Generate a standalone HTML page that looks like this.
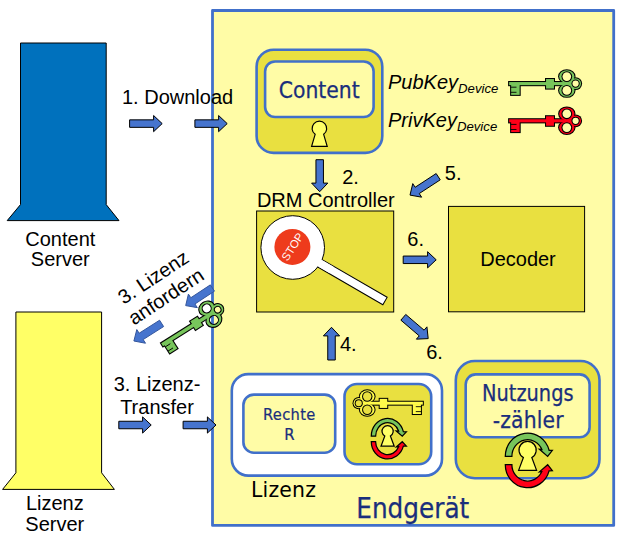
<!DOCTYPE html>
<html lang="de"><head><meta charset="utf-8"><title>DRM Architektur</title>
<style>html,body{margin:0;padding:0;background:#fff}body{width:625px;height:547px;overflow:hidden}svg{display:block}.ls{font-family:"Liberation Sans",sans-serif}.li{font-family:"Liberation Sans",sans-serif;font-style:italic}.dj{font-family:"DejaVu Sans",sans-serif}.dc{font-family:"DejaVu Sans Condensed","DejaVu Sans",sans-serif;stroke:#1A2E7C;stroke-width:0.25px}</style></head><body>
<svg width="625" height="547" viewBox="0 0 625 547">
<rect width="625" height="547" fill="#fff"/>
<rect x="212.5" y="10.5" width="401.2" height="514.9" fill="#FFFCA6" stroke="#4170CA" stroke-width="2.8" stroke-linejoin="round"/>
<path d="M20.5 43H106.2V204.6L119 220.6H7.2L20.5 204.6Z" fill="#0071BD" stroke="#000" stroke-width="1" stroke-linejoin="miter"/>
<text x="60.30" y="245.70" font-size="20.00" fill="#000" text-anchor="middle" class="ls" >Content</text>
<text x="60.30" y="266.20" font-size="20.00" fill="#000" text-anchor="middle" class="ls" >Server</text>
<path d="M15.9 312H101.6V472.8L114.4 489.4H2.6L15.9 472.8Z" fill="#FFFF66" stroke="#000" stroke-width="1" stroke-linejoin="miter"/>
<text x="54.80" y="510.10" font-size="20.00" fill="#000" text-anchor="middle" class="ls" >Lizenz</text>
<text x="54.80" y="530.70" font-size="20.00" fill="#000" text-anchor="middle" class="ls" >Server</text>
<text x="122.00" y="104.00" font-size="20.00" fill="#000" text-anchor="start" class="ls" >1. Download</text>
<polygon points="129.60,119.85 153.60,119.85 153.60,115.50 162.20,123.60 153.60,131.70 153.60,127.35 129.60,127.35" fill="#4674CE" stroke="#000" stroke-width="1" stroke-linejoin="miter"/>
<polygon points="194.90,119.85 218.60,119.85 218.60,115.50 227.20,123.60 218.60,131.70 218.60,127.35 194.90,127.35" fill="#4674CE" stroke="#000" stroke-width="1" stroke-linejoin="miter"/>
<text x="157.00" y="390.70" font-size="20.00" fill="#000" text-anchor="middle" class="ls" >3. Lizenz-</text>
<text x="157.00" y="413.80" font-size="20.00" fill="#000" text-anchor="middle" class="ls" >Transfer</text>
<polygon points="118.80,421.25 142.60,421.25 142.60,416.90 151.20,425.00 142.60,433.10 142.60,428.75 118.80,428.75" fill="#4674CE" stroke="#000" stroke-width="1" stroke-linejoin="miter"/>
<polygon points="183.10,421.25 207.40,421.25 207.40,416.90 216.00,425.00 207.40,433.10 207.40,428.75 183.10,428.75" fill="#4674CE" stroke="#000" stroke-width="1" stroke-linejoin="miter"/>
<g transform="translate(159.3,286.3) rotate(-33.5)">
<text x="0.00" y="-4.00" font-size="20.00" fill="#000" text-anchor="middle" class="ls" >3. Lizenz</text>
<text x="0.00" y="19.00" font-size="20.00" fill="#000" text-anchor="middle" class="ls" >anfordern</text>
</g>
<polygon points="214.46,291.13 194.94,304.00 197.34,307.63 185.70,305.60 188.42,294.10 190.82,297.74 210.34,284.87" fill="#4674CE" stroke="#34569C" stroke-width="1" stroke-linejoin="miter"/>
<polygon points="163.61,326.57 143.17,339.55 145.50,343.22 133.90,341.00 136.81,329.55 139.15,333.22 159.59,320.23" fill="#4674CE" stroke="#34569C" stroke-width="1" stroke-linejoin="miter"/>
<g transform="translate(161.6,345) rotate(-32.2) scale(0.985)"><mask id="kh1a" maskUnits="userSpaceOnUse" x="-5" y="-20" width="85" height="40"><rect x="-5" y="-20" width="85" height="40" fill="#fff"/><circle cx="58.50" cy="-7.00" r="4.00" fill="#000"/><circle cx="58.50" cy="6.80" r="4.00" fill="#000"/><circle cx="67.30" cy="0.00" r="2.80" fill="#000"/></mask><mask id="kh1b" maskUnits="userSpaceOnUse" x="-5" y="-20" width="85" height="40"><rect x="-5" y="-20" width="85" height="40" fill="#fff"/><circle cx="58.50" cy="-7.00" r="5.10" fill="#000"/><circle cx="58.50" cy="6.80" r="5.10" fill="#000"/><circle cx="67.30" cy="0.00" r="3.90" fill="#000"/></mask><g mask="url(#kh1a)"><rect x="-0.50" y="-2.90" width="65.00" height="5.80" fill="#000"/><rect x="1.50" y="-0.50" width="11.20" height="13.10" fill="#000"/><rect x="36.40" y="-5.90" width="10.60" height="12.20" fill="#000"/><ellipse cx="58.50" cy="-7.00" rx="9.00" ry="7.70" fill="#000"/><ellipse cx="58.50" cy="6.80" rx="9.00" ry="7.70" fill="#000"/><ellipse cx="67.30" cy="0.00" rx="6.80" ry="6.70" fill="#000"/></g><g mask="url(#kh1b)"><rect x="0.60" y="-1.80" width="62.80" height="3.60" fill="#77C55B"/><rect x="2.60" y="0.60" width="9.00" height="10.90" fill="#77C55B"/><rect x="37.50" y="-4.80" width="8.40" height="10.00" fill="#77C55B"/><ellipse cx="58.50" cy="-7.00" rx="7.90" ry="6.60" fill="#77C55B"/><ellipse cx="58.50" cy="6.80" rx="7.90" ry="6.60" fill="#77C55B"/><ellipse cx="67.30" cy="0.00" rx="5.70" ry="5.60" fill="#77C55B"/><path d="M2.2 3.6H8.2M2.2 8.7H8.2" stroke="#000" stroke-width="0.9" fill="none"/></g></g>
<rect x="256.60" y="49.70" width="125.70" height="103.20" rx="17.00" fill="#E9E040" stroke="#4170CA" stroke-width="2.60"/>
<rect x="265.10" y="61.50" width="108.50" height="55.50" rx="10.00" fill="#FFFCA6" stroke="#4170CA" stroke-width="2.60"/>
<text x="319.20" y="97.80" font-size="22.60" fill="#1A2E7C" text-anchor="middle" class="dc" >Content</text>
<path d="M311.60 146.30 L315.15 134.34 A7.30 7.30 0 1 1 323.65 134.34 L327.20 146.30 Z" fill="#FFFF66" stroke="#000" stroke-width="1.2"/>
<text x="388" y="88.6" font-size="20" class="li">PubKey<tspan font-size="13.2" dy="4.4">Device</tspan></text>
<text x="388" y="127" font-size="20" class="li">PrivKey<tspan font-size="13.2" dy="4.4">Device</tspan></text>
<g transform="translate(508.3,83.6)"><mask id="kh2a" maskUnits="userSpaceOnUse" x="-5" y="-20" width="85" height="40"><rect x="-5" y="-20" width="85" height="40" fill="#fff"/><circle cx="58.50" cy="-7.00" r="4.30" fill="#000"/><circle cx="58.50" cy="6.80" r="4.30" fill="#000"/><circle cx="67.30" cy="0.00" r="3.10" fill="#000"/></mask><mask id="kh2b" maskUnits="userSpaceOnUse" x="-5" y="-20" width="85" height="40"><rect x="-5" y="-20" width="85" height="40" fill="#fff"/><circle cx="58.50" cy="-7.00" r="5.35" fill="#000"/><circle cx="58.50" cy="6.80" r="5.35" fill="#000"/><circle cx="67.30" cy="0.00" r="4.15" fill="#000"/></mask><g mask="url(#kh2a)"><rect x="-0.20" y="-2.60" width="64.40" height="5.20" fill="#000"/><rect x="1.80" y="-0.20" width="10.60" height="12.50" fill="#000"/><rect x="36.70" y="-5.60" width="10.00" height="11.60" fill="#000"/><ellipse cx="58.50" cy="-7.00" rx="8.70" ry="7.40" fill="#000"/><ellipse cx="58.50" cy="6.80" rx="8.70" ry="7.40" fill="#000"/><ellipse cx="67.30" cy="0.00" rx="6.50" ry="6.40" fill="#000"/></g><g mask="url(#kh2b)"><rect x="0.85" y="-1.55" width="62.30" height="3.10" fill="#77C55B"/><rect x="2.85" y="0.85" width="8.50" height="10.40" fill="#77C55B"/><rect x="37.75" y="-4.55" width="7.90" height="9.50" fill="#77C55B"/><ellipse cx="58.50" cy="-7.00" rx="7.65" ry="6.35" fill="#77C55B"/><ellipse cx="58.50" cy="6.80" rx="7.65" ry="6.35" fill="#77C55B"/><ellipse cx="67.30" cy="0.00" rx="5.45" ry="5.35" fill="#77C55B"/><path d="M2.2 3.6H8.2M2.2 8.7H8.2" stroke="#000" stroke-width="0.9" fill="none"/></g></g>
<g transform="translate(508.3,120.8)"><mask id="kh3a" maskUnits="userSpaceOnUse" x="-5" y="-20" width="85" height="40"><rect x="-5" y="-20" width="85" height="40" fill="#fff"/><circle cx="58.50" cy="-7.00" r="4.30" fill="#000"/><circle cx="58.50" cy="6.80" r="4.30" fill="#000"/><circle cx="67.30" cy="0.00" r="3.10" fill="#000"/></mask><mask id="kh3b" maskUnits="userSpaceOnUse" x="-5" y="-20" width="85" height="40"><rect x="-5" y="-20" width="85" height="40" fill="#fff"/><circle cx="58.50" cy="-7.00" r="5.35" fill="#000"/><circle cx="58.50" cy="6.80" r="5.35" fill="#000"/><circle cx="67.30" cy="0.00" r="4.15" fill="#000"/></mask><g mask="url(#kh3a)"><rect x="-0.20" y="-2.60" width="64.40" height="5.20" fill="#000"/><rect x="1.80" y="-0.20" width="10.60" height="12.50" fill="#000"/><rect x="36.70" y="-5.60" width="10.00" height="11.60" fill="#000"/><ellipse cx="58.50" cy="-7.00" rx="8.70" ry="7.40" fill="#000"/><ellipse cx="58.50" cy="6.80" rx="8.70" ry="7.40" fill="#000"/><ellipse cx="67.30" cy="0.00" rx="6.50" ry="6.40" fill="#000"/></g><g mask="url(#kh3b)"><rect x="0.85" y="-1.55" width="62.30" height="3.10" fill="#FF0018"/><rect x="2.85" y="0.85" width="8.50" height="10.40" fill="#FF0018"/><rect x="37.75" y="-4.55" width="7.90" height="9.50" fill="#FF0018"/><ellipse cx="58.50" cy="-7.00" rx="7.65" ry="6.35" fill="#FF0018"/><ellipse cx="58.50" cy="6.80" rx="7.65" ry="6.35" fill="#FF0018"/><ellipse cx="67.30" cy="0.00" rx="5.45" ry="5.35" fill="#FF0018"/><path d="M2.2 3.6H8.2M2.2 8.7H8.2" stroke="#000" stroke-width="0.9" fill="none"/></g></g>
<polygon points="323.45,159.70 323.45,183.10 327.80,183.10 319.70,191.70 311.60,183.10 315.95,183.10 315.95,159.70" fill="#4674CE" stroke="#000" stroke-width="1" stroke-linejoin="miter"/>
<text x="342.20" y="184.10" font-size="20.00" fill="#000" text-anchor="start" class="ls" >2.</text>
<text x="256.90" y="207.30" font-size="20.00" fill="#000" text-anchor="start" class="ls" >DRM Controller</text>
<rect x="256.6" y="211" width="137.1" height="101" fill="#E9E040" stroke="#000" stroke-width="1"/>
<g>
<g transform="translate(292.7,247.5) rotate(30.1)"><rect x="25" y="-4.3" width="81.7" height="8.6" fill="#fff" stroke="#000" stroke-width="1"/></g>
<circle cx="292.7" cy="247.5" r="31.8" fill="#fff" stroke="#000" stroke-width="1"/>
<g transform="translate(292.7,247.5) rotate(30.1)"><rect x="25" y="-3.8" width="20" height="7.6" fill="#fff"/></g>
<circle cx="292.4" cy="246.9" r="18" fill="#EE3B1C"/>
<g transform="translate(292.5,246.8) rotate(-57)"><text x="0" y="4" font-size="11.3" fill="#fff" text-anchor="middle" class="ls">STOP</text></g>
</g>
<rect x="448.5" y="206.4" width="136.1" height="105.4" fill="#E9E040" stroke="#000" stroke-width="1"/>
<text x="518.00" y="265.80" font-size="20.00" fill="#000" text-anchor="middle" class="ls" >Decoder</text>
<polygon points="440.25,179.84 419.25,193.54 421.63,197.18 410.00,195.10 412.78,183.62 415.15,187.26 436.15,173.56" fill="#4674CE" stroke="#000" stroke-width="1" stroke-linejoin="miter"/>
<text x="444.80" y="179.70" font-size="20.00" fill="#000" text-anchor="start" class="ls" >5.</text>
<polygon points="403.20,256.05 427.60,256.05 427.60,251.70 436.20,259.80 427.60,267.90 427.60,263.55 403.20,263.55" fill="#4674CE" stroke="#000" stroke-width="1" stroke-linejoin="miter"/>
<text x="407.30" y="245.90" font-size="20.00" fill="#000" text-anchor="start" class="ls" >6.</text>
<polygon points="405.74,314.45 424.10,330.16 426.93,326.85 428.20,338.60 416.40,339.16 419.23,335.86 400.86,320.15" fill="#4674CE" stroke="#000" stroke-width="1" stroke-linejoin="miter"/>
<text x="426.20" y="358.80" font-size="20.00" fill="#000" text-anchor="start" class="ls" >6.</text>
<polygon points="327.75,360.00 327.75,335.90 323.40,335.90 331.50,327.30 339.60,335.90 335.25,335.90 335.25,360.00" fill="#4674CE" stroke="#000" stroke-width="1" stroke-linejoin="miter"/>
<text x="339.90" y="350.80" font-size="20.00" fill="#000" text-anchor="start" class="ls" >4.</text>
<rect x="231.80" y="374.10" width="210.20" height="101.50" rx="16.50" fill="#fff" stroke="#4170CA" stroke-width="2.60"/>
<rect x="243.40" y="394.60" width="91.80" height="58.10" rx="10.50" fill="#FFFCA6" stroke="#4170CA" stroke-width="2.60"/>
<text x="289.30" y="420.20" font-size="16.30" fill="#1A2E7C" text-anchor="middle" class="dc" letter-spacing="0.35" style="stroke-width:0.2px">Rechte</text>
<text x="289.30" y="439.90" font-size="16.50" fill="#1A2E7C" text-anchor="middle" class="dc" style="stroke-width:0.2px">R</text>
<rect x="344.50" y="384.00" width="86.70" height="80.30" rx="12.50" fill="#E9E040" stroke="#4170CA" stroke-width="2.60"/>
<g transform="translate(423.7,403.2) scale(-0.965,0.965)"><mask id="kh4a" maskUnits="userSpaceOnUse" x="-5" y="-20" width="85" height="40"><rect x="-5" y="-20" width="85" height="40" fill="#fff"/><circle cx="58.50" cy="-7.00" r="4.35" fill="#000"/><circle cx="58.50" cy="6.80" r="4.35" fill="#000"/><circle cx="67.30" cy="0.00" r="3.15" fill="#000"/></mask><mask id="kh4b" maskUnits="userSpaceOnUse" x="-5" y="-20" width="85" height="40"><rect x="-5" y="-20" width="85" height="40" fill="#fff"/><circle cx="58.50" cy="-7.00" r="5.40" fill="#000"/><circle cx="58.50" cy="6.80" r="5.40" fill="#000"/><circle cx="67.30" cy="0.00" r="4.20" fill="#000"/></mask><g mask="url(#kh4a)"><rect x="-0.15" y="-2.55" width="64.30" height="5.10" fill="#000"/><rect x="1.85" y="-0.15" width="10.50" height="12.40" fill="#000"/><rect x="36.75" y="-5.55" width="9.90" height="11.50" fill="#000"/><ellipse cx="58.50" cy="-7.00" rx="8.65" ry="7.35" fill="#000"/><ellipse cx="58.50" cy="6.80" rx="8.65" ry="7.35" fill="#000"/><ellipse cx="67.30" cy="0.00" rx="6.45" ry="6.35" fill="#000"/></g><g mask="url(#kh4b)"><rect x="0.90" y="-1.50" width="62.20" height="3.00" fill="#FFFB4A"/><rect x="2.90" y="0.90" width="8.40" height="10.30" fill="#FFFB4A"/><rect x="37.80" y="-4.50" width="7.80" height="9.40" fill="#FFFB4A"/><ellipse cx="58.50" cy="-7.00" rx="7.60" ry="6.30" fill="#FFFB4A"/><ellipse cx="58.50" cy="6.80" rx="7.60" ry="6.30" fill="#FFFB4A"/><ellipse cx="67.30" cy="0.00" rx="5.40" ry="5.30" fill="#FFFB4A"/><path d="M2.2 3.6H8.2M2.2 8.7H8.2" stroke="#000" stroke-width="0.9" fill="none"/></g></g>
<path d="M371.30 436.20 A16.30 17.80 0 0 1 403.37 431.72 L406.35 431.80 L402.27 436.20 L396.24 430.98 L398.73 431.15 A12.00 13.50 0 0 0 375.60 436.20 Z" fill="#77C55B" stroke="#000" stroke-width="1.25" stroke-linejoin="miter"/><path d="M371.30 441.70 A16.30 17.20 0 0 0 403.34 446.18 L406.35 446.10 L402.27 441.70 L396.24 446.92 L398.64 446.75 A12.00 12.90 0 0 1 375.60 441.70 Z" fill="#FF0018" stroke="#000" stroke-width="1.25" stroke-linejoin="miter"/>
<path d="M381.00 446.20 L384.80 436.05 A5.60 5.60 0 1 1 390.40 436.05 L394.20 446.20 Z" fill="#FFFF66" stroke="#000" stroke-width="1.2"/>
<text x="251.00" y="496.60" font-size="20.40" fill="#000" text-anchor="start" class="dj" letter-spacing="0.2">Lizenz</text>
<rect x="455.80" y="361.00" width="143.70" height="117.20" rx="19.00" fill="#E9E040" stroke="#4170CA" stroke-width="2.60"/>
<rect x="465.70" y="374.40" width="123.90" height="62.90" rx="10.00" fill="#FFFCA6" stroke="#4170CA" stroke-width="2.60"/>
<text x="527.80" y="401.30" font-size="22.60" fill="#1A2E7C" text-anchor="middle" class="dc" textLength="91.5" lengthAdjust="spacingAndGlyphs">Nutzungs</text>
<text x="528.20" y="427.80" font-size="22.60" fill="#1A2E7C" text-anchor="middle" class="dc" letter-spacing="0.15">-zähler</text>
<path d="M505.30 456.40 A22.30 23.30 0 0 1 549.11 450.27 L552.35 450.38 L547.67 456.40 L539.42 449.26 L541.89 449.49 A15.70 16.70 0 0 0 511.90 456.40 Z" fill="#77C55B" stroke="#000" stroke-width="1.25" stroke-linejoin="miter"/><path d="M505.30 464.70 A22.30 23.00 0 0 0 549.09 470.83 L552.35 470.72 L547.67 464.70 L539.42 471.84 L541.84 471.61 A15.70 16.40 0 0 1 511.90 464.70 Z" fill="#FF0018" stroke="#000" stroke-width="1.25" stroke-linejoin="miter"/>
<path d="M518.60 470.40 L523.40 457.50 A8.60 8.60 0 1 1 531.80 457.50 L536.60 470.40 Z" fill="#FFFF66" stroke="#000" stroke-width="1.2"/>
<text x="412.80" y="517.90" font-size="27.50" fill="#1A2E7C" text-anchor="middle" class="dc" >Endgerät</text>
</svg></body></html>
